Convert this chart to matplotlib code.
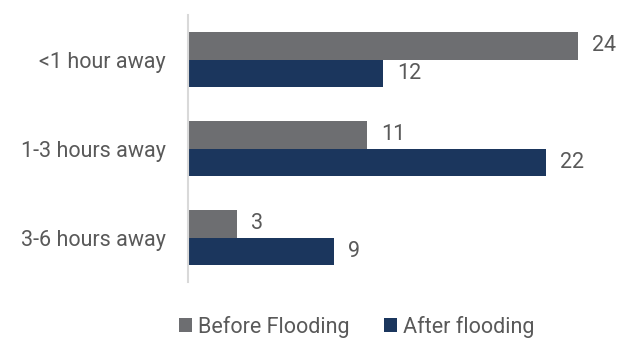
import matplotlib.pyplot as plt
import numpy as np

categories = ['<1 hour away', '1-3 hours away', '3-6 hours away']
before = [24, 11, 3]
after = [12, 22, 9]
labels = ['Before Flooding', 'After flooding']

plt.rcParams['font.family'] = ['Roboto', 'DejaVu Sans']
txt_color = '#595959'

fig = plt.figure(figsize=(6.17, 3.42), dpi=100)
ax = fig.add_axes([0.3047, 0.1754, 0.68, 0.78])

y = np.arange(len(categories))
h = 0.31
b1 = ax.barh(y - h / 2, before, height=h, color='#6D6E71', label=labels[0])
b2 = ax.barh(y + h / 2, after, height=h, color='#1B365D', label=labels[1])

for bars in (b1, b2):
    ax.bar_label(bars, padding=10, fontsize=15.5, color=txt_color)

ax.set_yticks(y)
ax.set_yticklabels(categories, fontsize=15.5, color=txt_color)
ax.set_ylim(2.5, -0.5)
ax.set_xlim(0, 25.8)
ax.set_xticks([])
ax.tick_params(axis='y', length=0, pad=16)
for s in ['top', 'right', 'bottom']:
    ax.spines[s].set_visible(False)
ax.spines['left'].set_color('#D9D9D9')
ax.spines['left'].set_linewidth(1.5)

leg = fig.legend(loc='center', bbox_to_anchor=(0.578, 0.045), ncol=2, frameon=False,
                 fontsize=15.5, handlelength=0.6, handleheight=0.6, handletextpad=0.3,
                 columnspacing=1.6, borderpad=0)
for t in leg.get_texts():
    t.set_color(txt_color)

fig.savefig('out.png', dpi=100)
